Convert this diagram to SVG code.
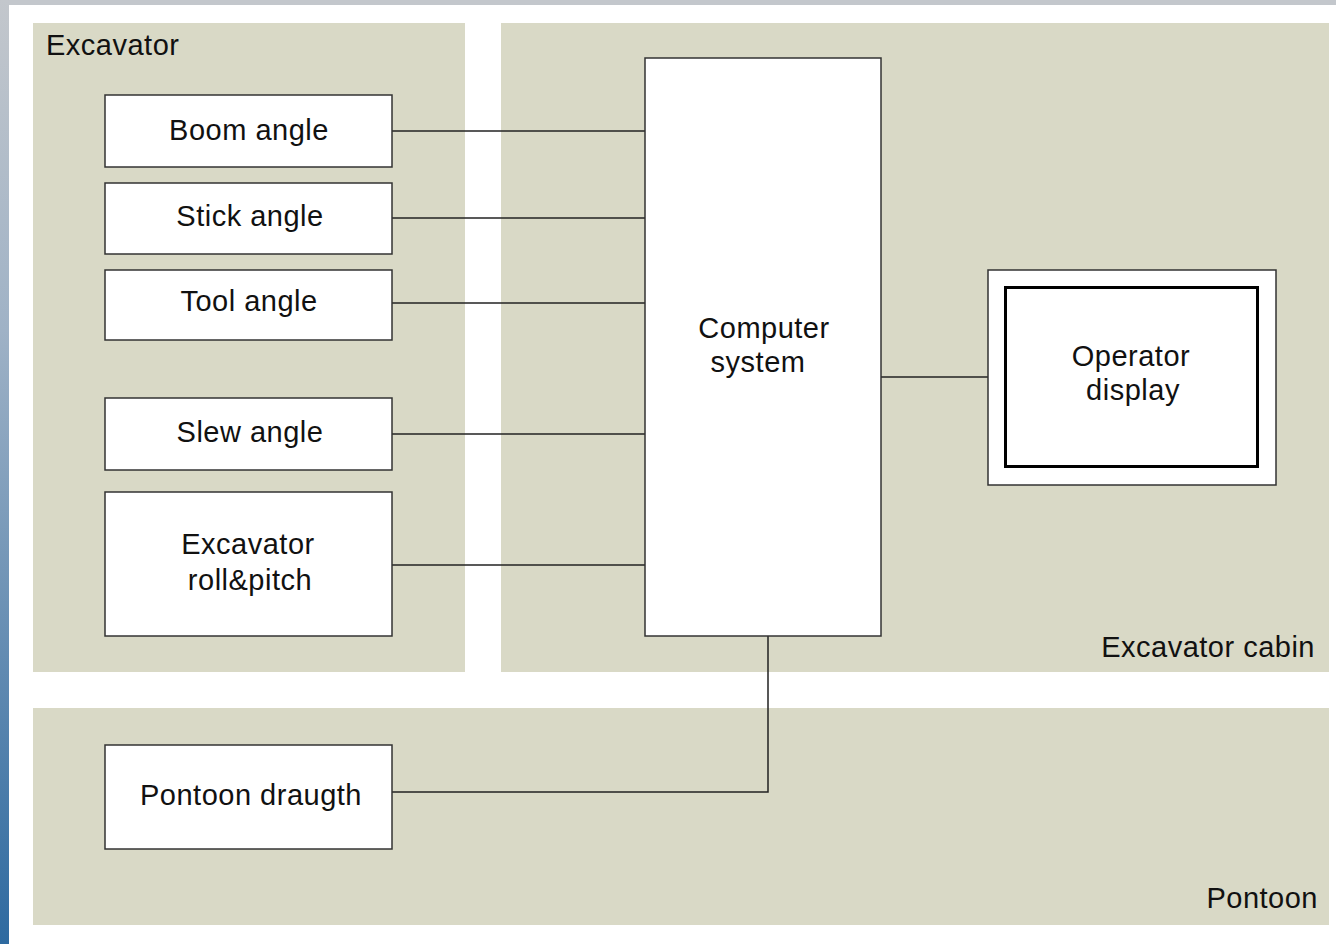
<svg xmlns="http://www.w3.org/2000/svg" width="1336" height="944" viewBox="0 0 1336 944">
<defs>
<linearGradient id="side" x1="0" y1="0" x2="0" y2="1">
<stop offset="0" stop-color="#c3c7cc"/>
<stop offset="0.35" stop-color="#9fb2c6"/>
<stop offset="1" stop-color="#2e6aa0"/>
</linearGradient>
<style>
.panel{fill:#d9d9c6}
.box{fill:#fff;stroke:#333;stroke-width:1.5}
.t{font-family:"Liberation Sans",Arial,sans-serif;font-size:29px;fill:#111;letter-spacing:0.5px}
.c{text-anchor:middle}
.e{text-anchor:end}
.wire{stroke:#222;stroke-width:1.5;fill:none}
</style>
</defs>
<rect width="1336" height="944" fill="#fff"/>
<rect x="0" y="0" width="1336" height="5" fill="#c3c7cc"/>
<rect x="0" y="0" width="9" height="944" fill="url(#side)"/>

<g id="panel-excavator">
<rect class="panel" x="33" y="23" width="432" height="649"/>
<text class="t" x="46" y="55">Excavator</text>
</g>
<g id="panel-cabin">
<rect class="panel" x="501" y="23" width="828" height="649"/>
<text class="t e" x="1315" y="657">Excavator cabin</text>
</g>
<g id="panel-pontoon">
<rect class="panel" x="33" y="708" width="1296" height="217"/>
<text class="t e" x="1318" y="908">Pontoon</text>
</g>

<g id="connectors">
<line class="wire" x1="392" y1="131" x2="645" y2="131"/>
<line class="wire" x1="392" y1="218" x2="645" y2="218"/>
<line class="wire" x1="392" y1="303" x2="645" y2="303"/>
<line class="wire" x1="392" y1="434" x2="645" y2="434"/>
<line class="wire" x1="392" y1="565" x2="645" y2="565"/>
<line class="wire" x1="881" y1="377" x2="988" y2="377"/>
<polyline class="wire" points="392,792 768,792 768,636"/>
</g>

<g id="boom-angle">
<rect class="box" x="105" y="95" width="287" height="72"/>
<text class="t c" x="249" y="140">Boom angle</text>
</g>
<g id="stick-angle">
<rect class="box" x="105" y="183" width="287" height="71"/>
<text class="t c" x="250" y="226">Stick angle</text>
</g>
<g id="tool-angle">
<rect class="box" x="105" y="270" width="287" height="70"/>
<text class="t c" x="249" y="311">Tool angle</text>
</g>
<g id="slew-angle">
<rect class="box" x="105" y="398" width="287" height="72"/>
<text class="t c" x="250" y="442">Slew angle</text>
</g>
<g id="roll-pitch">
<rect class="box" x="105" y="492" width="287" height="144"/>
<text class="t c" x="248" y="554">Excavator</text>
<text class="t c" x="250" y="590">roll&amp;pitch</text>
</g>
<g id="pontoon-draught">
<rect class="box" x="105" y="745" width="287" height="104"/>
<text class="t c" x="251" y="805">Pontoon draugth</text>
</g>
<g id="computer">
<rect class="box" x="645" y="58" width="236" height="578"/>
<text class="t c" x="764" y="338">Computer</text>
<text class="t c" x="758" y="372">system</text>
</g>
<g id="operator-display">
<rect class="box" x="988" y="270" width="288" height="215"/>
<rect x="1005.5" y="287.5" width="252" height="179" fill="#fff" stroke="#000" stroke-width="3"/>
<text class="t c" x="1131" y="366">Operator</text>
<text class="t c" x="1133" y="400">display</text>
</g>
</svg>
